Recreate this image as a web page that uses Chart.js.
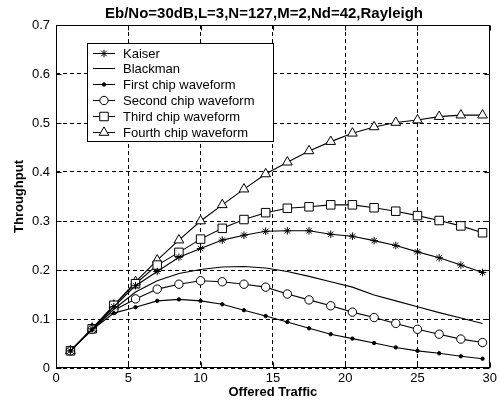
<!DOCTYPE html>
<html>
<head>
<meta charset="utf-8">
<script src="https://cdn.jsdelivr.net/npm/chart.js@4/dist/chart.umd.min.js"></script>
<style>
  html, body { margin: 0; padding: 0; background: #fff; }
  #wrap { width: 500px; height: 407px; position: relative; }
</style>
</head>
<body>
<div id="wrap"><canvas id="c" width="500" height="407"></canvas></div>
<script>
const chartTitle = 'Eb/No=30dB,L=3,N=127,M=2,Nd=42,Rayleigh';
const xLabel = 'Offered Traffic';
const yLabel = 'Throughput';
const seriesNames = ['Kaiser', 'Blackman', 'First chip waveform', 'Second chip waveform', 'Third chip waveform', 'Fourth chip waveform'];

const offeredTraffic = [1, 2.5, 4, 5.5, 7, 8.5, 10, 11.5, 13, 14.5, 16, 17.5, 19, 20.5, 22, 23.5, 25, 26.5, 28, 29.5];

const kaiser   = [0.035, 0.080, 0.125, 0.168, 0.197, 0.226, 0.244, 0.261, 0.271, 0.279, 0.280, 0.280, 0.273, 0.269, 0.260, 0.250, 0.237, 0.225, 0.210, 0.195];
const blackman = [0.035, 0.079, 0.120, 0.155, 0.178, 0.193, 0.201, 0.206, 0.207, 0.204, 0.197, 0.187, 0.176, 0.165, 0.149, 0.137, 0.125, 0.113, 0.102, 0.091];
const firstChip  = [0.035, 0.078, 0.112, 0.124, 0.137, 0.140, 0.137, 0.130, 0.118, 0.106, 0.094, 0.081, 0.069, 0.060, 0.051, 0.042, 0.035, 0.030, 0.024, 0.019];
const secondChip = [0.035, 0.079, 0.118, 0.141, 0.161, 0.171, 0.178, 0.176, 0.171, 0.165, 0.151, 0.139, 0.127, 0.114, 0.103, 0.091, 0.079, 0.069, 0.059, 0.052];
const thirdChip  = [0.035, 0.080, 0.128, 0.172, 0.210, 0.236, 0.263, 0.285, 0.303, 0.317, 0.326, 0.329, 0.333, 0.333, 0.327, 0.320, 0.311, 0.301, 0.290, 0.276];
const fourthChip = [0.035, 0.081, 0.128, 0.176, 0.220, 0.261, 0.300, 0.333, 0.365, 0.396, 0.420, 0.443, 0.462, 0.479, 0.492, 0.501, 0.506, 0.513, 0.516, 0.516];

const xTicks = [0, 5, 10, 15, 20, 25, 30];
const yTicks = [0, 0.1, 0.2, 0.3, 0.4, 0.5, 0.6, 0.7];

const FONT = '"Liberation Sans", Arial, Helvetica, sans-serif';

function toPoints(ys) { return offeredTraffic.map((x, i) => ({ x: x, y: ys[i] })); }

const styles = [
  { pointStyle: 'star', pointRadius: 3.8, bg: '#000' },
  { pointStyle: false, pointRadius: 0, bg: '#000' },
  { pointStyle: 'circle', pointRadius: 1.7, bg: '#000' },
  { pointStyle: 'circle', pointRadius: 4.2, bg: '#fff' },
  { pointStyle: 'rect', pointRadius: 6, bg: '#fff' },
  { pointStyle: 'triangle', pointRadius: 5.6, bg: '#fff' }
];
const seriesData = [kaiser, blackman, firstChip, secondChip, thirdChip, fourthChip];

const datasets = seriesData.map((ys, i) => ({
  label: seriesNames[i],
  data: toPoints(ys),
  borderColor: '#000',
  borderWidth: 1.1,
  backgroundColor: styles[i].bg,
  pointStyle: styles[i].pointStyle || 'circle',
  pointRadius: styles[i].pointRadius,
  pointBorderColor: '#000',
  pointBackgroundColor: styles[i].bg,
  pointBorderWidth: 1,
  pointHoverRadius: styles[i].pointRadius,
  tension: 0,
  fill: false,
  clip: false
}));

function drawMarker(ctx, style, r, x, y, bg) {
  if (!style || r <= 0) return;
  ctx.save();
  ctx.strokeStyle = '#000';
  ctx.fillStyle = bg;
  ctx.lineWidth = 1;
  ctx.beginPath();
  if (style === 'circle') {
    ctx.arc(x, y, r, 0, Math.PI * 2);
    ctx.fill(); ctx.stroke();
  } else if (style === 'rect') {
    const s = r * Math.SQRT1_2;
    ctx.rect(x - s, y - s, 2 * s, 2 * s);
    ctx.fill(); ctx.stroke();
  } else if (style === 'triangle') {
    let a = 0;
    ctx.moveTo(x + Math.sin(a) * r, y - Math.cos(a) * r);
    a += 2 * Math.PI / 3;
    ctx.lineTo(x + Math.sin(a) * r, y - Math.cos(a) * r);
    a += 2 * Math.PI / 3;
    ctx.lineTo(x + Math.sin(a) * r, y - Math.cos(a) * r);
    ctx.closePath();
    ctx.fill(); ctx.stroke();
  } else if (style === 'star') {
    ctx.moveTo(x - r, y); ctx.lineTo(x + r, y);
    ctx.moveTo(x, y - r); ctx.lineTo(x, y + r);
    const d = r * Math.SQRT1_2;
    ctx.moveTo(x - d, y - d); ctx.lineTo(x + d, y + d);
    ctx.moveTo(x - d, y + d); ctx.lineTo(x + d, y - d);
    ctx.stroke();
  }
  ctx.restore();
}

const decorPlugin = {
  id: 'decor',
  afterDatasetsDraw(chart) {
    const ctx = chart.ctx;
    // legend box
    const bx = 87.5, by = 43.5, bw = 186, bh = 98;
    ctx.save();
    ctx.setLineDash([]);
    ctx.fillStyle = '#fff';
    ctx.fillRect(bx, by, bw, bh);
    ctx.strokeStyle = '#000';
    ctx.lineWidth = 1;
    ctx.strokeRect(bx, by, bw, bh);
    ctx.font = '13px ' + FONT;
    ctx.textBaseline = 'middle';
    ctx.textAlign = 'left';
    ctx.fillStyle = '#000';
    for (let i = 0; i < seriesNames.length; i++) {
      const yy = Math.round(52.5 + i * 15.8) + 0.5;
      ctx.beginPath();
      ctx.moveTo(93, yy); ctx.lineTo(115, yy);
      ctx.strokeStyle = '#000';
      ctx.lineWidth = 1;
      ctx.stroke();
      drawMarker(ctx, styles[i].pointStyle, styles[i].pointRadius, 104, yy, styles[i].bg);
      ctx.fillStyle = '#000';
      ctx.fillText(seriesNames[i], 123, yy + 0.5);
    }
    ctx.restore();
  },
  afterDraw(chart) {
    const ctx = chart.ctx;
    const a = chart.chartArea;
    const L = Math.round(a.left) + 0.5, R = Math.round(a.right) - 0.5;
    const T = Math.round(a.top) + 0.5, B = Math.round(a.bottom) - 0.5;
    ctx.save();
    ctx.setLineDash([]);
    ctx.strokeStyle = '#000';
    ctx.lineWidth = 1;
    ctx.strokeRect(L, T, R - L, B - T);
    // inner tick marks on all four sides
    const xs = chart.scales.x, ys = chart.scales.y;
    ctx.beginPath();
    xTicks.forEach(v => {
      const px = Math.round(xs.getPixelForValue(v)) + 0.5;
      ctx.moveTo(px, B); ctx.lineTo(px, B - 5);
      ctx.moveTo(px, T); ctx.lineTo(px, T + 5);
    });
    yTicks.forEach(v => {
      const py = Math.round(ys.getPixelForValue(v)) + 0.5;
      ctx.moveTo(L, py); ctx.lineTo(L + 5, py);
      ctx.moveTo(R, py); ctx.lineTo(R - 5, py);
    });
    ctx.stroke();
    // chart title
    ctx.font = 'bold 15px ' + FONT;
    ctx.fillStyle = '#000';
    ctx.textAlign = 'center';
    ctx.textBaseline = 'middle';
    ctx.fillText(chartTitle, 264, 14);
    ctx.restore();
  }
};

new Chart(document.getElementById('c'), {
  type: 'line',
  data: { datasets: datasets },
  options: {
    responsive: false,
    animation: false,
    devicePixelRatio: 1,
    layout: { padding: { top: 25, right: 7, left: 0, bottom: 0 } },
    plugins: {
      legend: { display: false },
      title: { display: false },
      tooltip: { enabled: false }
    },
    scales: {
      x: {
        type: 'linear',
        min: 0, max: 30,
        afterFit(s) { s.height = 39; },
        afterBuildTicks(s) { s.ticks = xTicks.map(v => ({ value: v })); },
        ticks: { color: '#000', font: { family: FONT, size: 13 }, padding: 3, maxRotation: 0, autoSkip: false },
        grid: { display: true, color: '#000', lineWidth: 1, drawTicks: false },
        border: { display: false, dash: [4, 3] },
        title: { display: true, text: xLabel, color: '#000', font: { family: FONT, size: 13, weight: 'bold' }, padding: { top: 0, bottom: 7 } }
      },
      y: {
        type: 'linear',
        min: 0, max: 0.7,
        afterFit(s) { s.width = 56; },
        afterBuildTicks(s) { s.ticks = yTicks.map(v => ({ value: v })); },
        ticks: {
          color: '#000', font: { family: FONT, size: 13 }, padding: 6, autoSkip: false,
          callback: v => String(Math.round(v * 10) / 10)
        },
        grid: { display: true, color: '#000', lineWidth: 1, drawTicks: false },
        border: { display: false, dash: [4, 3] },
        title: { display: true, text: yLabel, color: '#000', font: { family: FONT, size: 13, weight: 'bold' }, padding: { top: 12, bottom: 0 } }
      }
    }
  },
  plugins: [decorPlugin]
});
</script>
</body>
</html>
